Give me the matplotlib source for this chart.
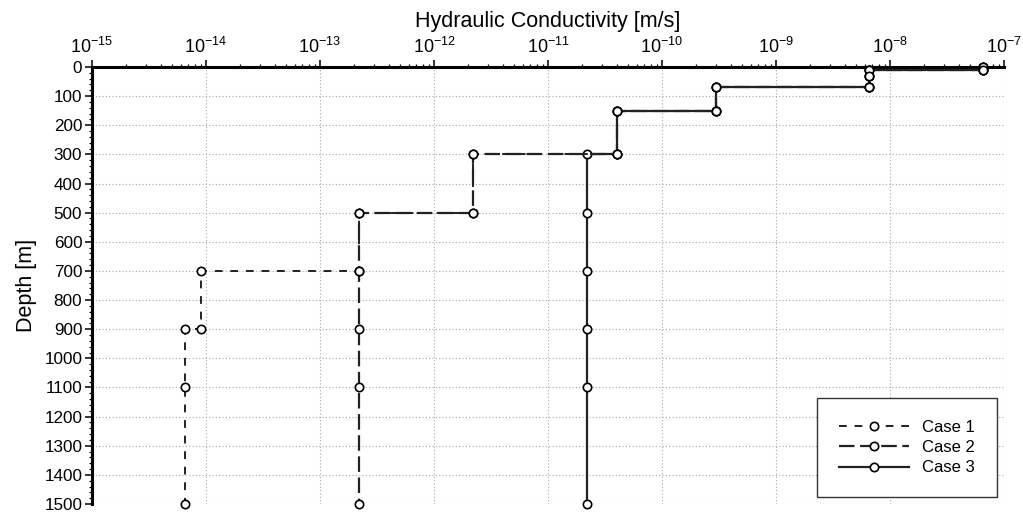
import matplotlib
matplotlib.use("Agg")
import matplotlib.pyplot as plt
from matplotlib.ticker import LogLocator, MultipleLocator, NullFormatter

plt.rcParams['font.family'] = ['Liberation Sans', 'DejaVu Sans']
plt.rcParams['mathtext.fontset'] = 'custom'
plt.rcParams['mathtext.rm'] = 'Liberation Sans'
plt.rcParams['mathtext.it'] = 'Liberation Sans'

# depth profiles (step shape, depth in m, conductivity in m/s)
case1_depth = [0, 10, 10, 30, 70, 70, 150, 150, 300, 300, 500, 500, 700, 700, 900, 900, 1100, 1500]
case1_k = [6.6e-8, 6.6e-8, 6.6e-9, 6.6e-9, 6.6e-9, 3.0e-10, 3.0e-10, 4.0e-11, 4.0e-11,
           2.2e-12, 2.2e-12, 2.2e-13, 2.2e-13, 9.0e-15, 9.0e-15, 6.6e-15, 6.6e-15, 6.6e-15]

case2_depth = [0, 10, 10, 30, 70, 70, 150, 150, 300, 300, 500, 500, 700, 900, 1100, 1500]
case2_k = [6.6e-8, 6.6e-8, 6.6e-9, 6.6e-9, 6.6e-9, 3.0e-10, 3.0e-10, 4.0e-11, 4.0e-11,
           2.2e-12, 2.2e-12, 2.2e-13, 2.2e-13, 2.2e-13, 2.2e-13, 2.2e-13]

case3_depth = [0, 10, 10, 30, 70, 70, 150, 150, 300, 300, 500, 700, 900, 1100, 1500]
case3_k = [6.6e-8, 6.6e-8, 6.6e-9, 6.6e-9, 6.6e-9, 3.0e-10, 3.0e-10, 4.0e-11, 4.0e-11,
           2.2e-11, 2.2e-11, 2.2e-11, 2.2e-11, 2.2e-11, 2.2e-11]

fig = plt.figure(figsize=(10.23, 5.12), dpi=100)
ax = fig.add_axes([92 / 1023, 1 - 504 / 512, 912 / 1023, 437 / 512])

mk = dict(marker='o', markersize=6, markerfacecolor='white', markeredgecolor='black',
          markeredgewidth=1.2, clip_on=False)
ax.plot(case3_k, case3_depth, color='#222222', lw=1.6, ls='-', label='Case 3', zorder=3, **mk)
ax.plot(case2_k, case2_depth, color='#222222', lw=1.6, ls=(0, (7, 2.5)), label='Case 2', zorder=4, **mk)
ax.plot(case1_k, case1_depth, color='#222222', lw=1.4, ls=(0, (4, 4)), label='Case 1', zorder=5, **mk)

ax.set_xscale('log')
ax.set_xlim(1e-15, 1e-7)
ax.set_ylim(1500, 0)

ax.xaxis.tick_top()
ax.xaxis.set_label_position('top')
ax.xaxis.set_major_locator(LogLocator(base=10, numticks=20))
ax.xaxis.set_minor_locator(LogLocator(base=10, subs=range(2, 10), numticks=20))
ax.xaxis.set_minor_formatter(NullFormatter())
ax.yaxis.set_major_locator(MultipleLocator(100))
ax.yaxis.set_minor_locator(MultipleLocator(20))

ax.tick_params(axis='both', which='major', direction='out', length=5, width=1.1, pad=2)
ax.tick_params(axis='x', which='major', labelsize=13)
ax.tick_params(axis='y', which='major', labelsize=12.3)
ax.tick_params(axis='both', which='minor', direction='out', length=2.5, width=0.9)

for side in ['bottom', 'right']:
    ax.spines[side].set_visible(False)
for side in ['top', 'left']:
    ax.spines[side].set_linewidth(2.2)

ax.grid(True, which='major', ls=(0, (1, 2)), color='#a8a8a8', lw=0.8)

ax.set_xlabel('Hydraulic Conductivity [m/s]', fontsize=15.5, labelpad=7)
ax.set_ylabel('Depth [m]', fontsize=15.5, labelpad=5)

handles, labels = ax.get_legend_handles_labels()
order = [2, 1, 0]
leg = ax.legend([handles[i] for i in order], [labels[i] for i in order],
                loc='lower right', bbox_to_anchor=(0.9923, 0.016), borderaxespad=0,
                fontsize=12, fancybox=False, edgecolor='#333333', framealpha=1,
                handlelength=4.2, borderpad=1.3, labelspacing=0.32, handletextpad=0.8)
leg.get_frame().set_linewidth(1.0)

fig.savefig('out.png', dpi=100)
